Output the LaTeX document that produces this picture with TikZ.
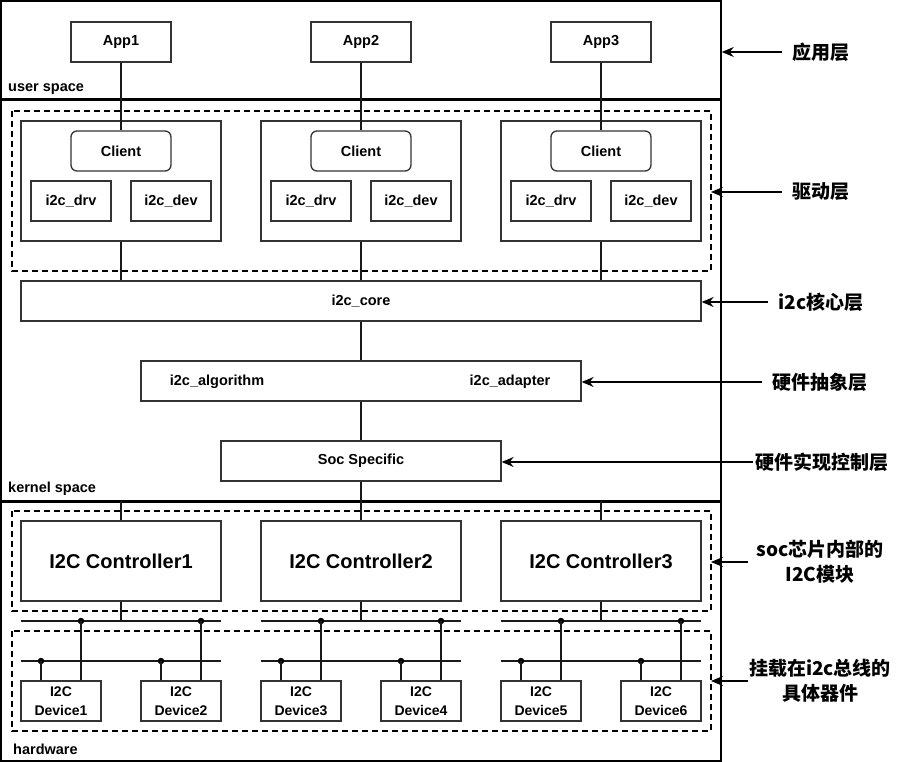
\documentclass[tikz,border=0pt]{standalone}
\usepackage{fontspec}
\setmainfont{Liberation Sans}
\newfontfamily\cjk{Noto Sans CJK SC}
\usetikzlibrary{arrows.meta,calc}
\begin{document}
\begin{tikzpicture}[x=1pt,y=-1pt,
  box/.style={draw=black!80, line width=1.3pt, inner sep=0pt, align=center,
    font=\fontsize{14.5}{19}\selectfont\bfseries},
  ctlbox/.style={box, minimum width=200, minimum height=80,
    font=\fontsize{20}{24}\selectfont\bfseries},
  conn/.style={line width=1.3pt, black!90},
  sepline/.style={line width=3pt},
  dashreg/.style={line width=1.3pt, dash pattern=on 6pt off 4pt},
  lbl/.style={font=\fontsize{14.5}{18}\selectfont\bfseries, anchor=west, inner sep=0pt},
  side/.style={font=\cjk\fontsize{19}{25}\selectfont\bfseries, align=center, inner sep=0pt},
  arr/.style={line width=1.3pt, -{Stealth[length=12pt,width=10pt,inset=4pt]}},
  dot/.style={circle, fill=black, inner sep=0pt, minimum size=6.5pt}
]
\useasboundingbox (0,0) rectangle (897,762);

% outer frame
\node[draw, line width=1.5pt, minimum width=720, minimum height=760, inner sep=0pt] (frame) at (361,381) {};
\draw[sepline] (0,100) -- (721,100);
\draw[sepline] (0,501) -- (721,501);

% dashed regions
\draw[dashreg] (12,111) rectangle (711,271);
\draw[dashreg] (12,511) rectangle (711,611);
\draw[dashreg] (12,631) rectangle (711,731);

% region labels
\node[lbl] (us) at (8,89) {user space};
\node[lbl] (ks) at (8,489) {kernel space};
\node[lbl] (hw) at (13,749) {hardware};

% core stack
\node[box, minimum width=680, minimum height=40] (core) at (361,301) {i2c\_core};
\node[box, minimum width=440, minimum height=40] (alg) at (361,381) {};
\node[box, draw=none] (algt) at (217,382) {i2c\_algorithm};
\node[box, draw=none] (adpt) at (510,382) {i2c\_adapter};
\node[box, minimum width=280, minimum height=40] (soc) at (361,461) {Soc Specific};
\draw[conn] (core) -- (alg);
\draw[conn] (alg) -- (soc);

\foreach \i/\dx in {1/0,2/240,3/480}{
  \pgfmathtruncatemacro\a{2*\i-1}
  \pgfmathtruncatemacro\b{2*\i}
  \begin{scope}[xshift=\dx pt]
    \node[box, minimum width=100, minimum height=40] (app\i) at (121,42) {App\i};
    \node[box, minimum width=200, minimum height=120] (grp\i) at (121,181) {};
    \node[box, rounded corners=6pt, minimum width=100, minimum height=40] (cli\i) at (121,151) {Client};
    \node[box, minimum width=80, minimum height=40] (drv\i) at (71,201) {i2c\_drv};
    \node[box, minimum width=80, minimum height=40] (idev\i) at (171,201) {i2c\_dev};
    \draw[conn] (app\i) -- (cli\i);
    \draw[conn] (grp\i) -- (grp\i.south |- core.north);

    \coordinate (kt\i) at (121,501);
    \node[ctlbox] (ctl\i) at (121,561) {I2C Controller\i};
    \draw[conn] (kt\i) -- (ctl\i);

    \coordinate (ubl\i) at (21,621);
    \coordinate (ubr\i) at (221,621);
    \coordinate (lbl\i) at (21,661);
    \coordinate (lbr\i) at (221,661);
    \draw[conn] (ubl\i) -- (ubr\i);
    \draw[conn] (lbl\i) -- (lbr\i);
    \draw[conn] (ctl\i) -- (ctl\i |- ubl\i);

    \node[box, minimum width=80, minimum height=40, font=\fontsize{14}{19}\selectfont\bfseries] (hw\a) at (61,701) {I2C\\Device\a};
    \node[box, minimum width=80, minimum height=40, font=\fontsize{14}{19}\selectfont\bfseries] (hw\b) at (181,701) {I2C\\Device\b};

    \node[dot] (ua\i) at (81,621) {};
    \node[dot] (ub\i) at (201,621) {};
    \node[dot] (la\i) at (41,661) {};
    \node[dot] (lb\i) at (161,661) {};
    \draw[conn] (ua\i.center) -- (ua\i |- hw\a.north);
    \draw[conn] (la\i.center) -- (la\i |- hw\a.north);
    \draw[conn] (ub\i.center) -- (ub\i |- hw\b.north);
    \draw[conn] (lb\i.center) -- (lb\i |- hw\b.north);
  \end{scope}
}
\draw[conn] (soc) -- (ctl2);

% side labels
\node[side] (s1) at (821,52) {应用层};
\node[side] (s2) at (821,192) {驱动层};
\node[side] (s3) at (821,302) {i2c核心层};
\node[side] (s4) at (820,382) {硬件抽象层};
\node[side] (s5) at (822,462) {硬件实现控制层};
\node[side] (s6) at (820,562) {soc芯片内部的\\I2C模块};
\node[side] (s7) at (820,681) {挂载在i2c总线的\\具体器件};

\draw[arr] ([xshift=-10pt]s1.west) -- (s1.west -| frame.east);
\draw[arr] ([xshift=-10pt]s2.west) -- (711,192);
\draw[arr] ([xshift=-10pt]s3.west) -- (s3.west -| core.east);
\draw[arr] ([xshift=-10pt]s4.west) -- (s4.west -| alg.east);
\draw[arr] ([xshift=-2pt]s5.west) -- (s5.west -| soc.east);
\draw[arr] ([xshift=-8pt]s6.west) -- (711,562);
\draw[arr] ([xshift=-1pt]s7.west) -- (711,681);
\end{tikzpicture}
\end{document}
